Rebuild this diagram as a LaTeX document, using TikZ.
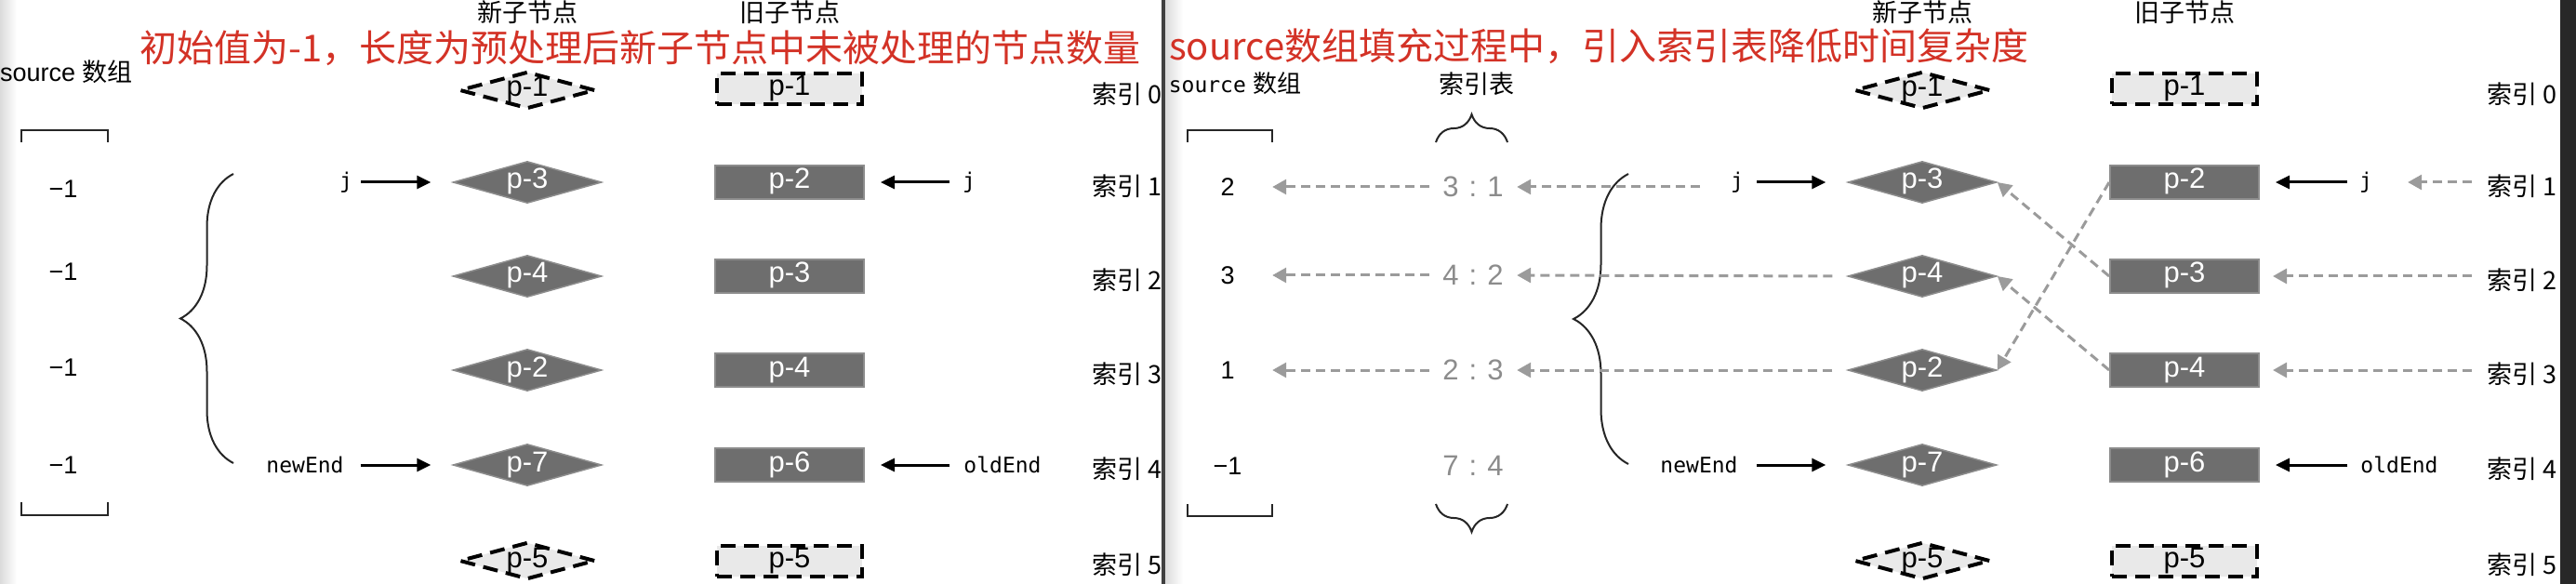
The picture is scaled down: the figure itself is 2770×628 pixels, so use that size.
\documentclass[tikz,border=0pt]{standalone}
\usepackage{fontspec}
\setmainfont{Liberation Sans}
\setmonofont{DejaVu Sans Mono}
\newfontfamily\cjk{Noto Sans CJK SC}
\usepackage{tikz}
\usetikzlibrary{shapes.geometric, arrows.meta, decorations.pathreplacing}
\definecolor{NodeDark}{RGB}{110,110,110}
\definecolor{NodeEdge}{RGB}{140,140,140}
\definecolor{GhostFill}{RGB}{233,233,233}
\definecolor{TitleRed}{RGB}{211,50,38}
\definecolor{LinkGray}{RGB}{155,155,155}
\definecolor{TableGray}{RGB}{140,140,140}
\definecolor{BarDark}{RGB}{40,40,40}

\begin{document}
\begin{tikzpicture}[x=1pt, y=-1pt,
    plabel/.style={font=\fontsize{31}{33}\selectfont, text height=18pt, text depth=4pt, inner sep=0pt},
    newnode/.style={plabel, diamond, aspect=3.5, fill=NodeDark, draw=NodeEdge, line width=1.5pt,
                    text=white, minimum width=160pt, minimum height=45pt},
    ghostnew/.style={plabel, diamond, aspect=3.5, fill=GhostFill, draw=black, line width=4pt,
                     dash pattern=on 16pt off 9pt, minimum width=146pt, minimum height=40pt},
    oldnode/.style={plabel, rectangle, fill=NodeDark, draw=NodeEdge, line width=2pt,
                    text=white, minimum width=160pt, minimum height=36pt},
    ghostold/.style={plabel, rectangle, fill=GhostFill, draw=black, line width=4pt,
                     dash pattern=on 16pt off 9pt, minimum width=156pt, minimum height=33pt},
    head/.style={font=\cjk\fontsize{27}{30}\selectfont, inner sep=0pt},
    idx/.style={font=\cjk\fontsize{27}{30}\selectfont, inner sep=0pt, anchor=west},
    title/.style={font=\cjk\fontsize{40}{44}\selectfont, text=TitleRed, inner sep=0pt, anchor=west},
    ptrlabel/.style={font=\ttfamily\fontsize{23}{26}\selectfont, inner sep=0pt},
    val/.style={font=\fontsize{27}{30}\selectfont, inner sep=0pt},
    cell/.style={font=\fontsize{31}{33}\selectfont, text=TableGray, inner sep=0pt, minimum width=94pt},
    ptr/.style={line width=3pt, -{Triangle[length=15pt, width=14pt]}},
    link/.style={draw=LinkGray, line width=3pt, dash pattern=on 10pt off 6pt,
                 -{Triangle[length=15pt, width=16pt]}},
    bracket/.style={line width=2pt, black!85},
    bracestyle/.style={line width=2pt, black!85, decorate}
  ]
  \useasboundingbox (0,0) rectangle (2770,628);

  % window edges
  \shade[left color=black!14, right color=white] (0,0) rectangle (18,628);
  \shade[left color=black!14, right color=white] (1253,0) rectangle (1272,628);
  \fill[black!75] (1249,0) rectangle (1253,628);
  \fill[BarDark] (2753,0) rectangle (2770,628);

  % both panels share the node columns
  \foreach \dx/\pan in {0/L, 1500/R} {
    \node[head] (newhead\pan) at (567+\dx, 13) {新子节点};
    \node[head] (oldhead\pan) at (849+\dx, 13) {旧子节点};
    \node[ghostnew] (n\pan0) at (567+\dx, 97) {p-1};
    \node[ghostnew] (n\pan5) at (567+\dx, 603) {p-5};
    \node[ghostold] (o\pan0) at (849+\dx, 96) {p-1};
    \node[ghostold] (o\pan5) at (849+\dx, 603) {p-5};
    \foreach \row/\y/\nlab/\olab in {1/196/3/2, 2/297/4/3, 3/398/2/4, 4/500/7/6} {
      \node[newnode] (n\pan\row) at (567+\dx, \y) {p-\nlab};
      \node[oldnode] (o\pan\row) at (849+\dx, \y) {p-\olab};
    }
    \foreach \row/\y in {0/97, 1/196, 2/297, 3/398, 4/500, 5/603}
      \node[idx] (i\pan\row) at (1174+\dx, \y+4) {索引 \row};
  }

  % titles
  \node[title] (titleL) at (150,52) {初始值为-1，长度为预处理后新子节点中未被处理的节点数量};
  \node[title] (titleR) at (1257,50) {source数组填充过程中，引入索引表降低时间复杂度};

  % left panel: source array
  \node[val, anchor=west] (srcL) at (0,77) {source {\cjk 数组}};
  \draw[bracket] (23,153) -- (23,140) -- (116,140) -- (116,153);
  \draw[bracket] (23,540) -- (23,554) -- (116,554) -- (116,540);
  \foreach \k/\y in {1/203, 2/292, 3/395, 4/500}
    \node[val] (vL\k) at (68,\y) {−1};
  \draw[bracestyle, decoration={brace, amplitude=57pt}] (251,498) -- (251,187);

  \node[ptrlabel] (jL) at (372,196) {j};
  \node[ptrlabel] (neL) at (328,500) {newEnd};
  \node[ptrlabel] (jR) at (1042,196) {j};
  \node[ptrlabel] (oeL) at (1078,500) {oldEnd};
  \draw[ptr, shorten <=9pt, shorten >=23pt] (jL) -- (nL1);
  \draw[ptr, shorten <=18pt, shorten >=23pt] (neL) -- (nL4);
  \draw[ptr, shorten <=14pt, shorten >=17pt] (jR) -- (oL1);
  \draw[ptr, shorten <=15pt, shorten >=17pt] (oeL) -- (oL4);

  % right panel: source array and key table
  \node[inner sep=0pt, font=\fontsize{26}{28}\selectfont] (srcR) at (1328,90)
        {{\ttfamily\fontsize{23}{26}\selectfont source} {\cjk 数组}};
  \node[head] (tabhead) at (1588,90) {索引表};
  \draw[bracket] (1277,153) -- (1277,140) -- (1368,140) -- (1368,153);
  \draw[bracket] (1277,542) -- (1277,555) -- (1368,555) -- (1368,542);
  \draw[bracestyle, decoration={brace, amplitude=30pt}] (1544,153) -- (1621,153);
  \draw[bracestyle, decoration={brace, amplitude=30pt}] (1621,542) -- (1544,542);
  \foreach \k/\y/\num in {1/201/2, 2/296/3, 3/398/1, 4/501/−1}
    \node[val, minimum width=96pt] (vR\k) at (1320,\y) {\num};
  \foreach \k/\y/\cellv in {1/201/3\hspace{11pt}:\hspace{11pt}1, 2/296/4\hspace{11pt}:\hspace{11pt}2,
                            3/398/2\hspace{11pt}:\hspace{11pt}3, 4/501/7\hspace{11pt}:\hspace{11pt}4}
    \node[cell] (tR\k) at (1584,\y) {\cellv};
  \foreach \k in {1,2,3}
    \draw[link] (tR\k.west) -- (vR\k.east);
  \draw[bracestyle, decoration={brace, amplitude=59pt}] (1751,499) -- (1751,187);

  \node[ptrlabel] (jN) at (1868,196) {j};
  \node[ptrlabel] (neN) at (1827,500) {newEnd};
  \node[ptrlabel] (jO) at (2544,196) {j};
  \node[ptrlabel] (oeO) at (2580,500) {oldEnd};
  \draw[ptr, shorten <=14pt, shorten >=23pt] (jN) -- (nR1);
  \draw[ptr, shorten <=20pt, shorten >=23pt] (neN) -- (nR4);
  \draw[ptr, shorten <=13pt, shorten >=17pt] (jO) -- (oR1);
  \draw[ptr, shorten <=14pt, shorten >=17pt] (oeO) -- (oR4);

  % lookups into the key table
  \coordinate (jtail) at (1828,201);
  \draw[link] (jtail) -- (tR1.east);
  \draw[link, shorten <=16pt] (nR2.west) -- (tR2.east);
  \draw[link, shorten <=16pt] (nR3.west) -- (tR3.east);
  % old positions matched to new ones
  \draw[link] (oR1.west) -- (nR3.east);
  \draw[link] (oR2.west) -- (nR1.east);
  \draw[link] (oR3.west) -- (nR2.east);
  \draw[link, shorten <=16pt, shorten >=38pt] (jO.east -| iR1.west) -- (jO.east);
  \draw[link, shorten <=16pt, shorten >=14pt] (oR2.east -| iR2.west) -- (oR2.east);
  \draw[link, shorten <=16pt, shorten >=14pt] (oR3.east -| iR3.west) -- (oR3.east);
\end{tikzpicture}
\end{document}
